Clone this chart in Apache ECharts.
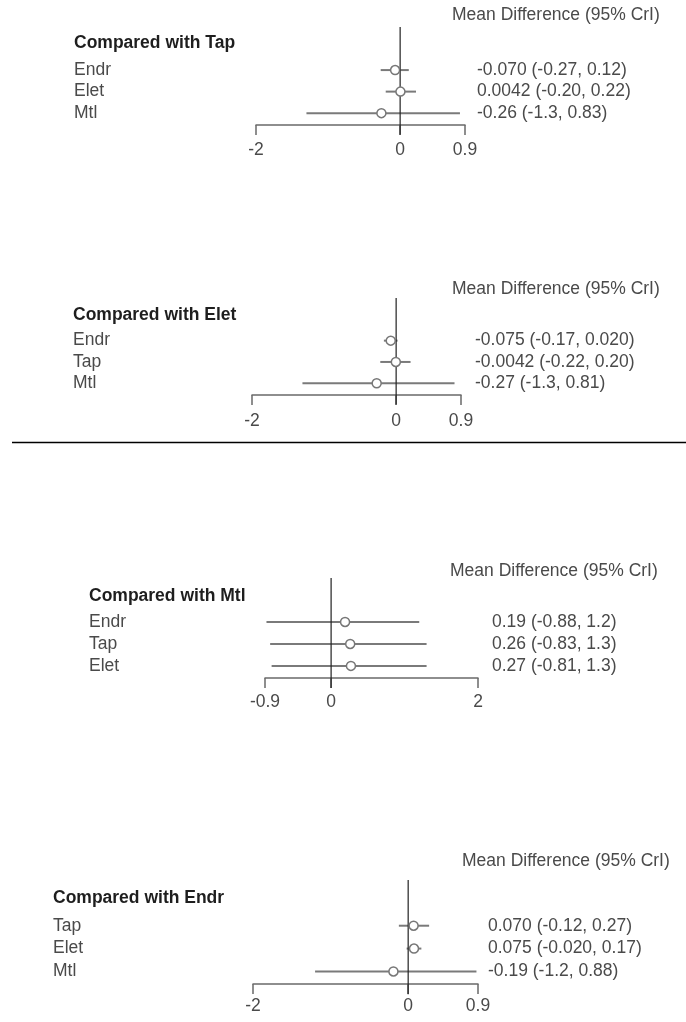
<!DOCTYPE html>
<html>
<head>
<meta charset="utf-8">
<script src="https://cdn.jsdelivr.net/npm/echarts@6/dist/echarts.min.js"></script>
<style>
html,body{margin:0;padding:0;background:#fff;}
#c{width:686px;height:1022px;}
</style>
</head>
<body>
<div id="c"></div>
<script>
// ---- data ----
const panelTitles = ['Compared with Tap', 'Compared with Elet', 'Compared with Mtl', 'Compared with Endr'];
const headerText = 'Mean Difference (95% CrI)';

const tapNames = ['Endr', 'Elet', 'Mtl'];
const tapMean = [-0.070, 0.0042, -0.26];
const tapLow = [-0.27, -0.20, -1.3];
const tapHigh = [0.12, 0.22, 0.83];

const eletNames = ['Endr', 'Tap', 'Mtl'];
const eletMean = [-0.075, -0.0042, -0.27];
const eletLow = [-0.17, -0.22, -1.3];
const eletHigh = [0.020, 0.20, 0.81];

const mtlNames = ['Endr', 'Tap', 'Elet'];
const mtlMean = [0.19, 0.26, 0.27];
const mtlLow = [-0.88, -0.83, -0.81];
const mtlHigh = [1.2, 1.3, 1.3];

const endrNames = ['Tap', 'Elet', 'Mtl'];
const endrMean = [0.070, 0.075, -0.19];
const endrLow = [-0.12, -0.020, -1.2];
const endrHigh = [0.27, 0.17, 0.88];

const axisTicks1 = [-2, 0, 0.9];
const axisTicks2 = [-2, 0, 0.9];
const axisTicks3 = [-0.9, 0, 2];
const axisTicks4 = [-2, 0, 0.9];

// ---- layout (pixels) ----
const FONT = "'Liberation Sans', Arial, sans-serif";
const FS = 17.5;
const layout = [
  {left: 256, width: 209, top: 27, height: 98, labelX: 74, valX: 477, titleY: 45, headX: 452, headY: 16, tickM: 16},
  {left: 252, width: 209, top: 298, height: 97, labelX: 73, valX: 475, titleY: 317, headX: 452, headY: 290, tickM: 17},
  {left: 265, width: 213, top: 578, height: 100, labelX: 89, valX: 492, titleY: 598, headX: 450, headY: 572, tickM: 15},
  {left: 253, width: 225, top: 880, height: 104, labelX: 53, valX: 488, titleY: 900, headX: 462, headY: 862, tickM: 13}
];
const panels = [
  {names: tapNames, mean: tapMean, low: tapLow, high: tapHigh, ticks: axisTicks1},
  {names: eletNames, mean: eletMean, low: eletLow, high: eletHigh, ticks: axisTicks2},
  {names: mtlNames, mean: mtlMean, low: mtlLow, high: mtlHigh, ticks: axisTicks3},
  {names: endrNames, mean: endrMean, low: endrLow, high: endrHigh, ticks: axisTicks4}
];
const Y_MIN = -1, Y_MAX = 3.55;

function fmt(v) { return Number(v).toPrecision(2); }

const grid = [], xAxis = [], yAxis = [], series = [], title = [];
panels.forEach((p, i) => {
  const L = layout[i];
  grid.push({left: L.left, top: L.top, width: L.width, height: L.height, containLabel: false});
  xAxis.push({
    type: 'value', gridIndex: i, min: p.ticks[0], max: p.ticks[2], position: 'bottom',
    axisLine: {show: true, onZero: false, lineStyle: {color: '#6a6a6a', width: 1.5}},
    axisTick: {show: true, length: 10, customValues: p.ticks, lineStyle: {color: '#6a6a6a', width: 1.5}},
    axisLabel: {customValues: p.ticks, margin: L.tickM, color: '#4a4a4a', fontSize: FS, fontFamily: FONT,
      formatter: v => String(v)},
    splitLine: {show: false}
  });
  const labels = p.names.map((n, k) => fmt(p.mean[k]) + ' (' + fmt(p.low[k]) + ', ' + fmt(p.high[k]) + ')');
  yAxis.push({
    type: 'value', gridIndex: i, min: Y_MIN, max: Y_MAX, inverse: true, position: 'left',
    axisLine: {show: false, onZero: false}, axisTick: {show: false}, splitLine: {show: false},
    axisLabel: {customValues: [1, 2, 3], align: 'left', margin: L.left - L.labelX, color: '#4a4a4a',
      fontSize: FS, fontFamily: FONT, formatter: v => p.names[Math.round(v) - 1]}
  });
  yAxis.push({
    type: 'value', gridIndex: i, min: Y_MIN, max: Y_MAX, inverse: true, position: 'right',
    axisLine: {show: false, onZero: false}, axisTick: {show: false}, splitLine: {show: false},
    axisLabel: {customValues: [1, 2, 3], align: 'left', margin: L.valX - (L.left + L.width), color: '#4a4a4a',
      fontSize: FS, fontFamily: FONT, formatter: v => labels[Math.round(v) - 1]}
  });
  // reference line at 0
  series.push({
    type: 'line', xAxisIndex: i, yAxisIndex: 2 * i, clip: false, symbol: 'none', silent: true,
    data: [[0, Y_MIN], [0, Y_MAX + 0.45]],
    lineStyle: {color: '#222', width: 1.2}, z: 3
  });
  // credible intervals
  series.push({
    type: 'custom', xAxisIndex: i, yAxisIndex: 2 * i, clip: false, silent: true,
    encode: {x: [0, 1], y: 2},
    data: p.names.map((n, k) => [p.low[k], p.high[k], k + 1]),
    renderItem: (params, api) => {
      const a = api.coord([api.value(0), api.value(2)]);
      const b = api.coord([api.value(1), api.value(2)]);
      return {type: 'line', shape: {x1: a[0], y1: a[1], x2: b[0], y2: b[1]},
        style: {stroke: '#7a7a7a', lineWidth: 2}};
    },
    z: 2
  });
  // point estimates
  series.push({
    type: 'scatter', xAxisIndex: i, yAxisIndex: 2 * i, silent: true,
    data: p.names.map((n, k) => [p.mean[k], k + 1]),
    symbol: 'circle', symbolSize: 9,
    itemStyle: {color: '#fff', borderColor: '#777', borderWidth: 1.5, opacity: 1},
    z: 4
  });
  title.push({text: panelTitles[i], left: L.labelX, top: L.titleY - 11,
    textStyle: {fontSize: FS, fontWeight: 'bold', color: '#1e1e1e', fontFamily: FONT}, padding: 0});
  title.push({text: headerText, left: L.headX, top: L.headY - 10,
    textStyle: {fontSize: FS, fontWeight: 'normal', color: '#4a4a4a', fontFamily: FONT}, padding: 0});
});

const chart = echarts.init(document.getElementById('c'), null, {renderer: 'canvas'});
chart.setOption({
  animation: false,
  backgroundColor: '#fff',
  title: title,
  grid: grid,
  xAxis: xAxis,
  yAxis: yAxis,
  series: series,
  graphic: [{
    type: 'line', shape: {x1: 12, y1: 442.5, x2: 686, y2: 442.5},
    style: {stroke: '#000', lineWidth: 1.5}
  }]
});
</script>
</body>
</html>
